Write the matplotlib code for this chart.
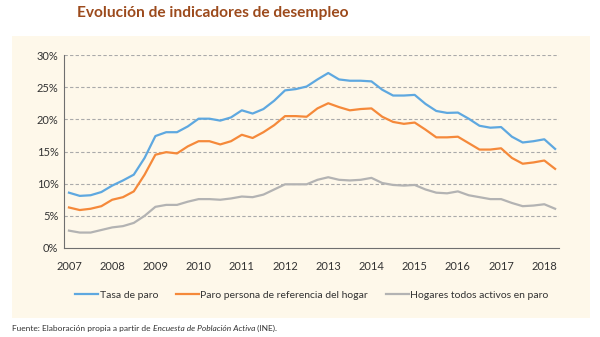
import numpy as np
import matplotlib
matplotlib.use('Agg')
import matplotlib.pyplot as plt
from matplotlib.patches import Rectangle

# Quarterly series, 2007 T1 to 2018 T2 (percent)
tasa_paro = [8.6, 8.1, 8.2, 8.7, 9.7, 10.5, 11.4, 14.0,
             17.4, 18.0, 18.0, 18.9, 20.1, 20.1, 19.8, 20.3,
             21.4, 20.9, 21.6, 22.9, 24.5, 24.7, 25.1, 26.2,
             27.2, 26.2, 26.0, 26.0, 25.9, 24.6, 23.7, 23.7,
             23.8, 22.4, 21.3, 21.0, 21.05, 20.1, 19.0, 18.7,
             18.8, 17.3, 16.4, 16.6, 16.9, 15.4]
paro_ref_hogar = [6.3, 5.9, 6.1, 6.5, 7.5, 7.9, 8.8, 11.4,
                  14.5, 14.9, 14.7, 15.8, 16.6, 16.6, 16.1, 16.6,
                  17.6, 17.1, 18.0, 19.1, 20.5, 20.5, 20.4, 21.7,
                  22.5, 21.9, 21.4, 21.6, 21.7, 20.4, 19.6, 19.3,
                  19.5, 18.4, 17.2, 17.2, 17.3, 16.3, 15.3, 15.3,
                  15.5, 14.0, 13.1, 13.3, 13.6, 12.3]
hogares_activos_paro = [2.7, 2.4, 2.4, 2.8, 3.2, 3.4, 3.9, 5.0,
                        6.4, 6.7, 6.7, 7.2, 7.6, 7.6, 7.5, 7.7,
                        8.0, 7.9, 8.3, 9.1, 9.9, 9.9, 9.9, 10.6,
                        11.0, 10.6, 10.5, 10.6, 10.9, 10.1, 9.8, 9.7,
                        9.8, 9.1, 8.6, 8.5, 8.8, 8.2, 7.9, 7.6,
                        7.6, 7.0, 6.5, 6.6, 6.8, 6.1]
years = list(range(2007, 2019))
y_ticks = [0, 5, 10, 15, 20, 25, 30]
labels = ['Tasa de paro', 'Paro persona de referencia del hogar',
          'Hogares todos activos en paro']
colors = ['#5ea8e0', '#f5893a', '#b3b3b3']

x = 2007 + np.arange(len(tasa_paro)) / 4.0

plt.rcParams['font.family'] = ['Lato', 'DejaVu Sans']

fig = plt.figure(figsize=(6, 3.37), dpi=100)
fig.patch.set_facecolor('white')

# cream panel behind the chart and legend
fig.patches.append(Rectangle((12 / 600, 1 - 318 / 337), 578 / 600, 282 / 337,
                             transform=fig.transFigure, facecolor='#fef8ea',
                             edgecolor='none', zorder=-5))

fig.text(77 / 600, 1 - 13 / 337, 'Evolución de indicadores de desempleo',
         color='#9c4a1c', fontsize=11.2, fontweight='bold', va='center', ha='left')

ax = fig.add_axes([64 / 600, 1 - 248 / 337, 495 / 600, 193 / 337])
ax.set_zorder(2)
ax.set_facecolor('none')

for series, lab, c in zip([tasa_paro, paro_ref_hogar, hogares_activos_paro], labels, colors):
    ax.plot(x, series, color=c, lw=1.6, label=lab, zorder=3)

ax.set_ylim(0, 30)
ax.set_xlim(2006.885, 2018.34)
ax.set_yticks(y_ticks)
ax.set_yticklabels([f'{v}%' for v in y_ticks])
ax.set_xticks(years)
ax.set_xticklabels([str(y) for y in years])
for v in y_ticks[1:]:
    ax.axhline(v, color='#aaaaaa', lw=0.8, ls=(0, (3, 2)), zorder=1)

for side in ['top', 'right']:
    ax.spines[side].set_visible(False)
for side in ['left', 'bottom']:
    ax.spines[side].set_color('#6f6f6f')
    ax.spines[side].set_linewidth(0.8)
ax.tick_params(axis='both', length=0, labelsize=8, colors='#333333')
ax.tick_params(axis='x', pad=9)
ax.tick_params(axis='y', pad=4)

leg = fig.legend(loc='center', bbox_to_anchor=(0.52, 1 - 295 / 337), ncol=3,
                 frameon=False, fontsize=7.5, handlelength=2.2, columnspacing=1.7,
                 handletextpad=0.15, labelcolor='#333333')
leg.set_zorder(3)

# source line: plain / italic / plain pieces placed one after another
renderer = fig.canvas.get_renderer()
y_src = 1 - 331 / 337
base = fig.text(12 / 600, y_src, 'Fuente: Elaboración propia a partir de ',
                fontsize=6.0, color='#333333', va='baseline', ha='left')
bb = base.get_window_extent(renderer)
it = fig.text(bb.x1 / 600, y_src, 'Encuesta de Población Activa',
              fontsize=6.0, color='#333333', va='baseline', ha='left', style='italic')
bb2 = it.get_window_extent(renderer)
fig.text(bb2.x1 / 600, y_src, ' (INE).',
         fontsize=6.0, color='#333333', va='baseline', ha='left')

fig.savefig('out.png', dpi=100)
